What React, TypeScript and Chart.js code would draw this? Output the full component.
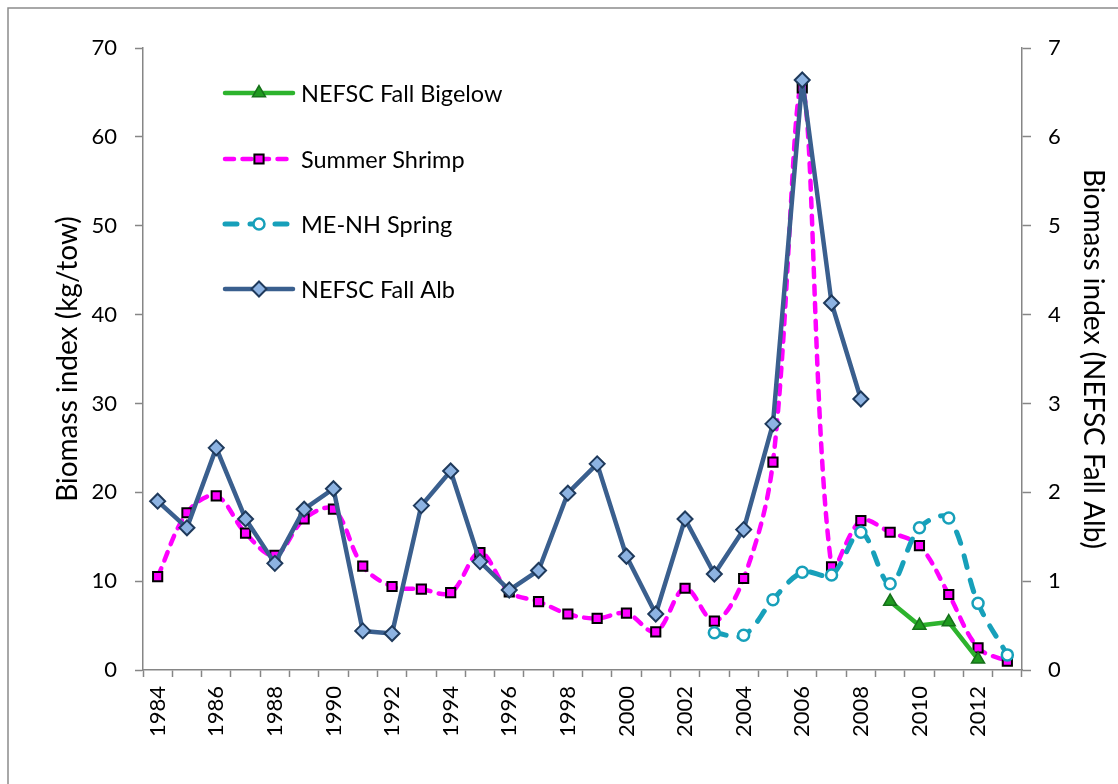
import React, { useEffect, useRef } from 'react';
import { Chart, registerables } from 'chart.js';

Chart.register(...registerables);

const years = [
  '1984', '1985', '1986', '1987', '1988', '1989', '1990', '1991', '1992', '1993',
  '1994', '1995', '1996', '1997', '1998', '1999', '2000', '2001', '2002', '2003',
  '2004', '2005', '2006', '2007', '2008', '2009', '2010', '2011', '2012', '2013',
];

const fallBigelow = [
  null, null, null, null, null, null, null, null, null, null,
  null, null, null, null, null, null, null, null, null, null,
  null, null, null, null, null, 7.7, 5.0, 5.4, 1.2, null,
];

const summerShrimp = [
  10.5, 17.7, 19.6, 15.4, 12.9, 17.0, 18.1, 11.7, 9.4, 9.1,
  8.7, 13.2, 8.8, 7.7, 6.3, 5.8, 6.4, 4.3, 9.2, 5.5,
  10.3, 23.4, 65.5, 11.6, 16.8, 15.5, 14.0, 8.5, 2.5, 1.0,
];

const meNhSpring = [
  null, null, null, null, null, null, null, null, null, null,
  null, null, null, null, null, null, null, null, null, 4.2,
  3.9, 7.9, 11.0, 10.7, 15.5, 9.7, 16.0, 17.1, 7.5, 1.7,
];

const fallAlb = [
  1.90, 1.60, 2.50, 1.70, 1.20, 1.81, 2.04, 0.44, 0.41, 1.85,
  2.24, 1.22, 0.90, 1.12, 1.99, 2.32, 1.28, 0.63, 1.70, 1.08,
  1.58, 2.77, 6.64, 4.13, 3.05, null, null, null, null, null,
];

const leftTicks = [0, 10, 20, 30, 40, 50, 60, 70];
const rightTicks = [0, 1, 2, 3, 4, 5, 6, 7];

const FONT = 'Lato, "Open Sans", "Noto Sans", sans-serif';
const AXIS = '#868686';

const styles = {
  bigelow: { line: '#2db32d', fill: '#1f9a1f', stroke: '#16701a', dash: [] as number[], width: 4.5, marker: 'triangle', r: 7.5, mlw: 1.5 },
  shrimp: { line: '#ff00ff', fill: '#ff00ff', stroke: '#000000', dash: [9, 8.5], width: 4.5, marker: 'rect', r: 6.5, mlw: 2 },
  menh: { line: '#17a0ba', fill: '#ffffff', stroke: '#17a0ba', dash: [12, 13], width: 5, marker: 'circle', r: 5.5, mlw: 2.5 },
  alb: { line: '#3a5f8e', fill: '#8db3e2', stroke: '#1f3a5c', dash: [] as number[], width: 4.5, marker: 'rectRot', r: 7.5, mlw: 2 },
};

const legendItems = [
  { label: 'NEFSC Fall Bigelow', s: styles.bigelow },
  { label: 'Summer Shrimp', s: styles.shrimp },
  { label: 'ME-NH Spring', s: styles.menh },
  { label: 'NEFSC Fall Alb', s: styles.alb },
];

function drawMarker(ctx: CanvasRenderingContext2D, style: string, x: number, y: number, r: number, fill: string, stroke: string, lw: number) {
  ctx.save();
  ctx.setLineDash([]);
  ctx.beginPath();
  if (style === 'triangle') {
    for (let k = 0; k < 3; k++) {
      const a = (k * 2 * Math.PI) / 3;
      const px = x + Math.sin(a) * r;
      const py = y - Math.cos(a) * r;
      if (k === 0) ctx.moveTo(px, py); else ctx.lineTo(px, py);
    }
    ctx.closePath();
  } else if (style === 'rect') {
    const s = r * Math.SQRT1_2;
    ctx.rect(x - s, y - s, 2 * s, 2 * s);
  } else if (style === 'rectRot') {
    ctx.moveTo(x, y - r);
    ctx.lineTo(x + r, y);
    ctx.lineTo(x, y + r);
    ctx.lineTo(x - r, y);
    ctx.closePath();
  } else {
    ctx.arc(x, y, r, 0, Math.PI * 2);
  }
  ctx.fillStyle = fill;
  ctx.fill();
  ctx.lineWidth = lw;
  ctx.strokeStyle = stroke;
  ctx.stroke();
  ctx.restore();
}

export default function App() {
  const ref = useRef<HTMLCanvasElement>(null);

  useEffect(() => {
    if (!ref.current) return;

    const framePlugin = {
      id: 'frame',
      beforeDraw(chart: any) {
        const ctx = chart.ctx as CanvasRenderingContext2D;
        ctx.save();
        ctx.fillStyle = '#ffffff';
        ctx.fillRect(0, 0, chart.width, chart.height);
        ctx.strokeStyle = '#8c8c8c';
        ctx.lineWidth = 1.5;
        ctx.beginPath();
        ctx.moveTo(8, chart.height + 10);
        ctx.lineTo(8, 8);
        ctx.lineTo(chart.width + 10, 8);
        ctx.stroke();
        ctx.restore();
      },
    };

    const legendPlugin = {
      id: 'insideLegend',
      afterDraw(chart: any) {
        const ctx = chart.ctx as CanvasRenderingContext2D;
        const rows = [93, 159, 224, 289];
        legendItems.forEach((it, i) => {
          const y = rows[i];
          ctx.save();
          ctx.strokeStyle = it.s.line;
          ctx.lineWidth = it.s.width;
          ctx.lineCap = 'round';
          ctx.setLineDash(it.s.dash);
          ctx.beginPath();
          ctx.moveTo(225, y);
          ctx.lineTo(293, y);
          ctx.stroke();
          ctx.restore();
          drawMarker(ctx, it.s.marker, 259, y, it.s.r, it.s.fill, it.s.stroke, it.s.mlw);
          ctx.save();
          ctx.fillStyle = '#000000';
          ctx.font = `23.5px ${FONT}`;
          ctx.textBaseline = 'middle';
          ctx.textAlign = 'left';
          ctx.fillText(it.label, 301, y + 1);
          ctx.restore();
        });
      },
    };

    const mk = (label: string, data: (number | null)[], s: any, axis: string, tension: number, order: number) => ({
      label,
      data,
      yAxisID: axis,
      borderColor: s.line,
      backgroundColor: s.fill,
      borderWidth: s.width,
      borderDash: s.dash,
      borderCapStyle: 'round',
      borderJoinStyle: 'round',
      tension,
      pointStyle: s.marker,
      pointRadius: s.r,
      pointBackgroundColor: s.fill,
      pointBorderColor: s.stroke,
      pointBorderWidth: s.mlw,
      spanGaps: false,
      order,
    });

    const chart = new Chart(ref.current, {
      type: 'line',
      data: {
        labels: years,
        datasets: [
          mk('NEFSC Fall Bigelow', fallBigelow, styles.bigelow, 'y', 0, 1),
          mk('Summer Shrimp', summerShrimp, styles.shrimp, 'y', 0.35, 3),
          mk('ME-NH Spring', meNhSpring, styles.menh, 'y', 0.35, 2),
          mk('NEFSC Fall Alb', fallAlb, styles.alb, 'y1', 0, 0),
        ] as any,
      },
      plugins: [framePlugin, legendPlugin],
      options: {
        responsive: false,
        animation: false,
        devicePixelRatio: 1,
        layout: { padding: { top: 48, left: 0, right: 0, bottom: 0 } },
        plugins: {
          legend: { display: false },
          tooltip: { enabled: false },
          title: { display: false },
        },
        scales: {
          x: {
            type: 'category',
            offset: true,
            grid: {
              offset: true,
              drawOnChartArea: false,
              drawTicks: true,
              tickLength: 7,
              tickWidth: 1.5,
              color: AXIS,
            },
            border: { display: true, color: AXIS, width: 1.5 },
            ticks: {
              autoSkip: false,
              maxRotation: 90,
              minRotation: 90,
              padding: 9,
              color: '#000000',
              font: { family: FONT, size: 22 },
              callback: (_v: any, i: number) => (i % 2 === 0 ? years[i] : ''),
            },
            afterFit: (s: any) => { s.height = 114; },
          },
          y: {
            type: 'linear',
            position: 'left',
            min: 0,
            max: 70,
            afterBuildTicks: (s: any) => { s.ticks = leftTicks.map((v) => ({ value: v })); },
            grid: {
              drawOnChartArea: false,
              tickLength: 8,
              tickWidth: 1.5,
              color: AXIS,
            },
            border: { display: true, color: AXIS, width: 1.5 },
            ticks: {
              padding: 18,
              color: '#000000',
              font: { family: FONT, size: 22 },
            },
            title: {
              display: true,
              text: 'Biomass index (kg/tow)',
              color: '#000000',
              font: { family: FONT, size: 28 },
              padding: { top: 51, bottom: 0 },
            },
            afterFit: (s: any) => { s.width = 143; },
          },
          y1: {
            type: 'linear',
            position: 'right',
            min: 0,
            max: 7,
            afterBuildTicks: (s: any) => { s.ticks = rightTicks.map((v) => ({ value: v })); },
            grid: {
              drawOnChartArea: false,
              tickLength: 9,
              tickWidth: 1.5,
              color: AXIS,
            },
            border: { display: true, color: AXIS, width: 1.5 },
            ticks: {
              padding: 17,
              color: '#000000',
              font: { family: FONT, size: 22 },
            },
            title: {
              display: true,
              text: 'Biomass index (NEFSC Fall Alb)',
              color: '#000000',
              font: { family: FONT, size: 28 },
              padding: { top: 8, bottom: 0 },
            },
            afterFit: (s: any) => { s.width = 96; },
          },
        },
      } as any,
    });

    return () => chart.destroy();
  }, []);

  return (
    <div style={{ position: 'absolute', left: 0, top: 0, width: 1118, height: 784 }}>
      <canvas ref={ref} width={1118} height={784} style={{ display: 'block', width: 1118, height: 784 }} />
    </div>
  );
}
